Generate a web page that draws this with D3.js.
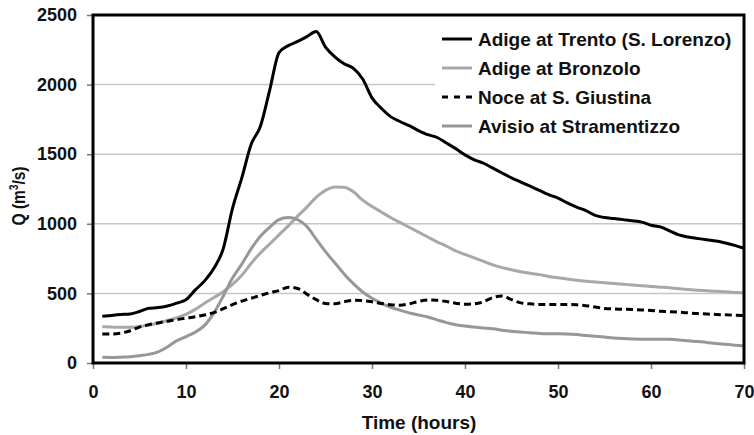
<!DOCTYPE html>
<html>
<head>
<meta charset="utf-8">
<script src="https://cdn.jsdelivr.net/npm/d3@7"></script>
<style>
  html, body { margin: 0; padding: 0; background: #fff; }
  svg { display: block; }
  text { font-family: "Liberation Sans", Arial, sans-serif; font-weight: bold; fill: #111; }
</style>
</head>
<body>
<svg id="chart" width="754" height="435"></svg>
<script>
// Hourly discharge at four gauging stations during the flood event
const hours = [1,2,3,4,5,6,7,8,9,10,11,12,13,14,15,16,17,18,19,20,
  21,22,23,24,25,26,27,28,29,30,31,32,33,34,35,36,37,38,39,40,
  41,42,43,44,45,46,47,48,49,50,51,52,53,54,55,56,57,58,59,60,
  61,62,63,64,65,66,67,68,69,70];

const trento = [335,342,348,352,370,393,398,410,430,455,525,590,680,820,1110,1330,1570,1700,1960,2230,
  2280,2310,2345,2381,2270,2200,2150,2117,2040,1905,1830,1770,1735,1705,1670,1640,1620,1580,1540,1495,
  1460,1435,1400,1365,1330,1300,1270,1240,1210,1185,1150,1120,1095,1060,1045,1038,1030,1022,1012,990,
  978,950,920,905,895,885,876,862,845,824];

const bronzolo = [261,258,256,256,262,272,287,305,325,350,385,430,470,512,565,630,715,790,855,920,
  985,1055,1120,1190,1240,1265,1262,1230,1170,1125,1085,1045,1010,975,940,905,870,840,805,780,
  755,730,705,685,670,655,645,635,622,612,603,595,588,582,576,571,566,560,555,550,
  545,540,533,528,523,519,515,511,507,504];

const noce = [208,208,215,232,258,275,288,300,312,322,332,345,362,390,420,445,465,485,505,520,
  545,535,495,455,428,425,440,450,448,440,428,418,415,425,442,452,450,442,430,422,
  425,440,470,482,455,432,425,421,420,420,420,418,412,402,392,388,386,384,381,377,
  372,369,365,360,355,352,349,346,343,340];

const avisio = [41,40,42,45,52,62,80,115,160,190,222,270,360,480,610,710,820,910,975,1030,
  1045,1030,980,890,800,720,640,570,510,465,430,400,380,360,345,330,310,290,275,265,
  258,252,246,236,228,222,218,212,210,210,208,204,198,192,186,180,176,173,171,170,
  170,170,166,160,154,148,140,134,128,122];

const seriesNames = ["Adige at Trento (S. Lorenzo)", "Adige at Bronzolo", "Noce at S. Giustina", "Avisio at Stramentizzo"];
const xTicks = [0,10,20,30,40,50,60,70];
const yTicks = [0,500,1000,1500,2000,2500];

const styles = [
  { color: "#000", width: 3, dash: null },
  { color: "#a8a8a8", width: 3, dash: null },
  { color: "#000", width: 3, dash: "7,4" },
  { color: "#979797", width: 3, dash: null }
];
const values = [trento, bronzolo, noce, avisio];

const svg = d3.select("#chart");
const m = { left: 93, top: 15, right: 10, bottom: 72 };
const W = 754, H = 435;
const x = d3.scaleLinear().domain([0, 70]).range([m.left, W - m.right]);
const y = d3.scaleLinear().domain([0, 2500]).range([H - m.bottom, m.top]);

// horizontal gridlines
svg.append("g").selectAll("line").data(yTicks.slice(1, -1)).join("line")
  .attr("x1", x(0)).attr("x2", x(70))
  .attr("y1", d => y(d)).attr("y2", d => y(d))
  .attr("stroke", "#c6c6c6").attr("stroke-width", 1.5);

// legend background hides the grid behind it
const legX = 435, legY = m.top;
svg.append("rect").attr("x", legX).attr("y", legY + 1)
  .attr("width", x(70) - legX).attr("height", 133).attr("fill", "#fff");

// series lines
const line = d3.line().x((d, i) => x(hours[i])).y(d => y(d)).curve(d3.curveMonotoneX);
// draw order: lighter lines first, black on top
[1, 3, 2, 0].forEach(k => {
  svg.append("path").datum(values[k])
    .attr("d", line).attr("fill", "none")
    .attr("stroke", styles[k].color).attr("stroke-width", styles[k].width)
    .attr("stroke-dasharray", styles[k].dash)
    .attr("stroke-linejoin", "round");
});

// axes
const fmt = d3.format("d");
const xAxis = d3.axisBottom(x).tickValues(xTicks).tickFormat(fmt).tickSize(6).tickPadding(16);
const yAxis = d3.axisLeft(y).tickValues(yTicks).tickFormat(fmt).tickSize(6).tickPadding(10);
const gx = svg.append("g").attr("transform", `translate(0,${y(0)})`).call(xAxis);
const gy = svg.append("g").attr("transform", `translate(${x(0)},0)`).call(yAxis);
[gx, gy].forEach(g => {
  g.select(".domain").remove();
  g.selectAll(".tick line").attr("stroke", "#777").attr("stroke-width", 1.5);
  g.selectAll(".tick text").style("font-size", "18px").attr("fill", "#111");
});

// plot frame
svg.append("rect").attr("x", x(0)).attr("y", y(2500))
  .attr("width", x(70) - x(0)).attr("height", y(0) - y(2500))
  .attr("fill", "none").attr("stroke", "#000").attr("stroke-width", 3);

// axis titles
svg.append("text").attr("x", 419).attr("y", 429).attr("text-anchor", "middle")
  .style("font-size", "19px").text("Time (hours)");
const yt = svg.append("text").attr("transform", "translate(25,196) rotate(-90) scale(0.82,1)")
  .attr("text-anchor", "middle").style("font-size", "19px");
yt.append("tspan").text("Q (m");
yt.append("tspan").attr("dy", -7).style("font-size", "12px").text("3");
yt.append("tspan").attr("dy", 7).text("/s)");

// legend
const rowY = [39, 68, 97, 126];
seriesNames.forEach((name, k) => {
  const g = svg.append("g").attr("transform", `translate(442,${rowY[k]})`);
  g.append("line").attr("x1", 0).attr("x2", 30).attr("y1", 0).attr("y2", 0)
    .attr("stroke", styles[k].color).attr("stroke-width", styles[k].width)
    .attr("stroke-dasharray", styles[k].dash ? "6,6" : null);
  g.append("text").attr("x", 36).attr("y", 7).style("font-size", "19px").text(name);
});
</script>
</body>
</html>
